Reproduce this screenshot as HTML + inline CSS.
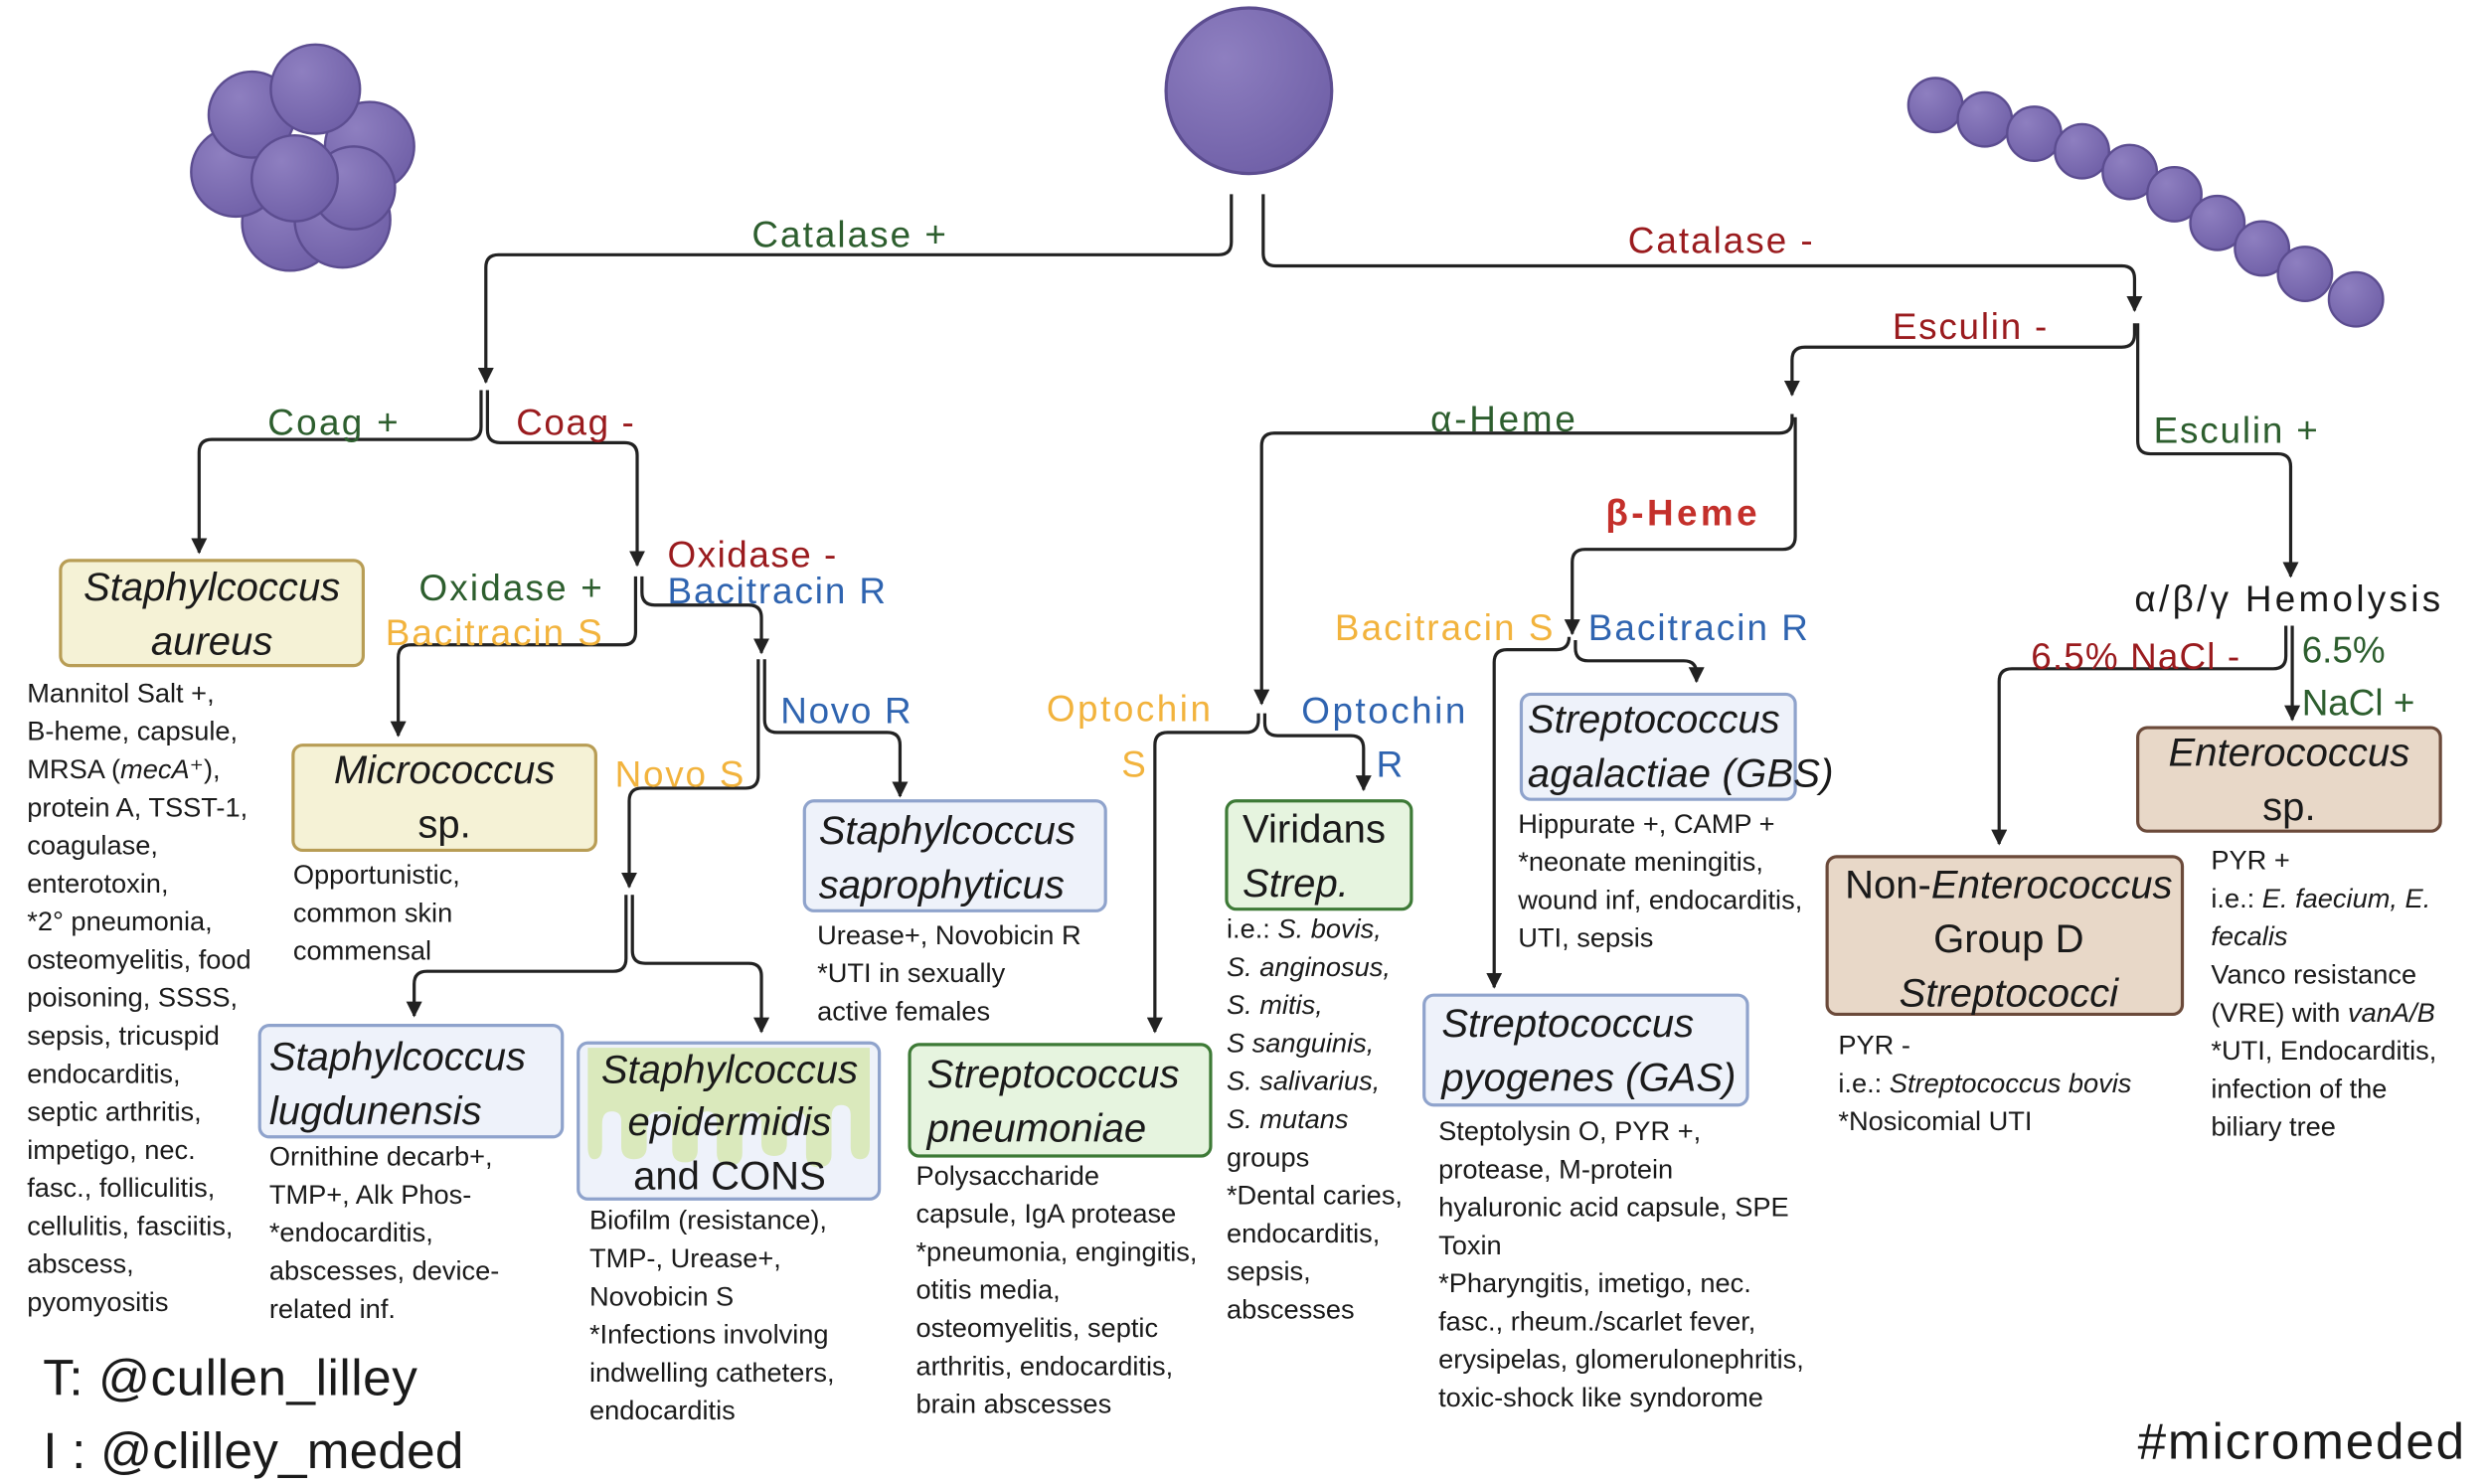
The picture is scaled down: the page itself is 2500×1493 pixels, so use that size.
<!DOCTYPE html>
<html><head><meta charset="utf-8"><style>
html,body{margin:0;padding:0;background:#fff;}
svg{display:block;}
text{font-family:"Liberation Sans",sans-serif;}
.lb{font-size:23px;}
.bt{font-size:17px;fill:#1a1a1a;}
.bx{font-size:25px;fill:#1a1a1a;}
.g{fill:#2d5e2e}.r{fill:#9a1b1e}.o{fill:#f2b33d}.b{fill:#2f64b0}
.ln{fill:none;stroke:#222;stroke-width:2;}
</style></head><body>
<svg width="2500" height="1493" viewBox="0 0 1560 932" preserveAspectRatio="none" xmlns="http://www.w3.org/2000/svg">
<defs>
<marker id="a" viewBox="0 0 10 10" refX="9" refY="5" markerWidth="5" markerHeight="5" orient="auto"><path d="M0,0 L10,5 L0,10 z" fill="#222"/></marker>
<radialGradient id="pg" cx="0.35" cy="0.3" r="0.8"><stop offset="0" stop-color="#8e7fc0"/><stop offset="1" stop-color="#6e5ea6"/></radialGradient>
</defs>
<rect width="1560" height="932" fill="#fff"/>
<g fill="url(#pg)" stroke="#5c4d90" stroke-width="1.5">
<circle cx="182" cy="140" r="30"/>
<circle cx="215" cy="138" r="30"/>
<circle cx="232" cy="92" r="28"/>
<circle cx="148" cy="108" r="28"/>
<circle cx="158" cy="72" r="27"/>
<circle cx="198" cy="56" r="28"/>
<circle cx="222" cy="118" r="26"/>
<circle cx="185" cy="112" r="27"/>
</g>
<circle cx="784" cy="57" r="52" fill="url(#pg)" stroke="#5c4d90" stroke-width="2"/>
<g fill="url(#pg)" stroke="#5c4d90" stroke-width="1.5">
<circle cx="1215" cy="66" r="17"/><circle cx="1246" cy="75" r="17"/><circle cx="1277" cy="84" r="17"/>
<circle cx="1307" cy="95" r="17"/><circle cx="1337" cy="108" r="17"/><circle cx="1365" cy="122" r="17"/>
<circle cx="1392" cy="140" r="17"/><circle cx="1420" cy="156" r="17"/><circle cx="1447" cy="172" r="17"/><circle cx="1479" cy="188" r="17"/>
</g>

<g class="ln">
<path d="M773,122 V152 Q773,160 765,160 H313 Q305,160 305,168 V240" marker-end="url(#a)"/>
<path d="M793,122 V159 Q793,167 801,167 H1332 Q1340,167 1340,175 V195" marker-end="url(#a)"/>
<path d="M302,245 V268 Q302,276 294,276 H133 Q125,276 125,284 V347" marker-end="url(#a)"/>
<path d="M306,245 V270 Q306,278 314,278 H392 Q400,278 400,286 V355" marker-end="url(#a)"/>
<path d="M399,362 V397 Q399,405 391,405 H258 Q250,405 250,413 V462" marker-end="url(#a)"/>
<path d="M403,362 V372 Q403,380 411,380 H470 Q478,380 478,388 V410" marker-end="url(#a)"/>
<path d="M480,414 V452 Q480,460 488,460 H557 Q565,460 565,468 V500" marker-end="url(#a)"/>
<path d="M476,414 V487 Q476,495 468,495 H403 Q395,495 395,503 V557" marker-end="url(#a)"/>
<path d="M393,562 V602 Q393,610 385,610 H268 Q260,610 260,618 V638" marker-end="url(#a)"/>
<path d="M397,562 V597 Q397,605 405,605 H470 Q478,605 478,613 V648" marker-end="url(#a)"/>
<path d="M1340,203 V210 Q1340,218 1332,218 H1133 Q1125,218 1125,226 V248" marker-end="url(#a)"/>
<path d="M1342,203 V277 Q1342,285 1350,285 H1430 Q1438,285 1438,293 V362" marker-end="url(#a)"/>
<path d="M1125,260 V264 Q1125,272 1117,272 H800 Q792,272 792,280 V442" marker-end="url(#a)"/>
<path d="M1127,262 V337 Q1127,345 1119,345 H995 Q987,345 987,353 V398" marker-end="url(#a)"/>
<path d="M985,402 V400 Q985,408 977,408 H946 Q938,408 938,416 V620" marker-end="url(#a)"/>
<path d="M989,402 V407 Q989,415 997,415 H1057 Q1065,415 1065,423 V428" marker-end="url(#a)"/>
<path d="M790,448 V452 Q790,460 782,460 H733 Q725,460 725,468 V648" marker-end="url(#a)"/>
<path d="M794,448 V454 Q794,462 802,462 H848 Q856,462 856,470 V496" marker-end="url(#a)"/>
<path d="M1435,393 V412 Q1435,420 1427,420 H1263 Q1255,420 1255,428 V530" marker-end="url(#a)"/>
<path d="M1439,393 V452" marker-end="url(#a)"/>
</g>

<text class="lb g" x="472" y="155" textLength="122">Catalase +</text>
<text class="lb r" x="1022" y="159" textLength="116">Catalase -</text>
<text class="lb g" x="168" y="273" textLength="82">Coag +</text>
<text class="lb r" x="324" y="273" textLength="74">Coag -</text>
<text class="lb g" x="263" y="377" textLength="115">Oxidase +</text>
<text class="lb o" x="242" y="405" textLength="136">Bacitracin S</text>
<text class="lb r" x="419" y="356" textLength="106">Oxidase -</text>
<text class="lb b" x="419" y="379" textLength="137">Bacitracin R</text>
<text class="lb b" x="490" y="454" textLength="82">Novo R</text>
<text class="lb o" x="386" y="494" textLength="81">Novo S</text>
<text class="lb g" x="898" y="271" textLength="91">α-Heme</text>
<text class="lb r" x="1188" y="213" textLength="97">Esculin -</text>
<text class="lb g" x="1352" y="278" textLength="103">Esculin +</text>
<text class="lb" x="1008" y="330" textLength="95" style="fill:#c4302b;font-weight:bold">β-Heme</text>
<text class="lb o" x="838" y="402" textLength="137">Bacitracin S</text>
<text class="lb b" x="997" y="402" textLength="138">Bacitracin R</text>
<text class="lb o" x="657" y="453" textLength="103">Optochin</text>
<text class="lb o" x="704" y="488">S</text>
<text class="lb b" x="817" y="454" textLength="103">Optochin</text>
<text class="lb b" x="864" y="488">R</text>
<text class="lb" x="1340" y="384" textLength="192" fill="#1a1a1a">α/β/γ Hemolysis</text>
<text class="lb r" x="1275" y="420" textLength="131">6.5% NaCl -</text>
<text class="lb g" x="1445" y="416">6.5%</text>
<text class="lb g" x="1445" y="449">NaCl +</text>

<rect x="38" y="352" width="190" height="66" rx="6" fill="#f5f2d6" stroke="#b89d55" stroke-width="2"/>
<text class="bx" text-anchor="middle" font-style="italic"><tspan x="133" y="377">Staphylcoccus</tspan><tspan x="133" y="411">aureus</tspan></text>
<rect x="184" y="468" width="190" height="66" rx="6" fill="#f5f2d6" stroke="#b89d55" stroke-width="2"/>
<text class="bx" text-anchor="middle"><tspan x="279" y="492" font-style="italic">Micrococcus</tspan><tspan x="279" y="526">sp.</tspan></text>
<rect x="505" y="503" width="189" height="69" rx="6" fill="#eef2fa" stroke="#8fa3cc" stroke-width="2"/>
<text class="bx" font-style="italic"><tspan x="514" y="530">Staphylcoccus</tspan><tspan x="514" y="564">saprophyticus</tspan></text>
<rect x="163" y="644" width="190" height="70" rx="6" fill="#eef2fa" stroke="#8fa3cc" stroke-width="2"/>
<text class="bx" font-style="italic"><tspan x="169" y="672">Staphylcoccus</tspan><tspan x="169" y="706">lugdunensis</tspan></text>
<rect x="363" y="655" width="189" height="98" rx="6" fill="#eef2fa" stroke="#8fa3cc" stroke-width="2"/>
<path d="M369,658 H546 V720 Q546,728 540,728 Q534,728 534,720 V700 Q534,694 528,694 Q522,694 522,702 V725 Q522,733 514,733 Q506,733 506,725 V705 Q506,698 500,698 Q494,698 494,706 V718 Q494,726 486,726 Q478,726 478,718 V705 Q478,698 472,698 Q466,698 466,708 V724 Q466,732 458,732 Q450,732 450,724 V706 Q450,698 444,698 Q438,698 438,706 V722 Q438,730 430,730 Q422,730 422,722 V706 Q422,698 414,698 Q406,698 406,706 V720 Q406,728 398,728 Q390,728 390,720 V704 Q390,698 384,698 Q378,698 378,706 V720 Q378,728 373,728 Q369,728 369,720 Z" fill="#d6e8b0" opacity="0.85"/>
<text class="bx" text-anchor="middle"><tspan x="458" y="680" font-style="italic">Staphylcoccus</tspan><tspan x="458" y="713" font-style="italic">epidermidis</tspan><tspan x="458" y="747">and CONS</tspan></text>
<rect x="571" y="656" width="189" height="70" rx="6" fill="#e6f4df" stroke="#3d7a36" stroke-width="2"/>
<text class="bx" font-style="italic"><tspan x="582" y="683">Streptococcus</tspan><tspan x="582" y="717">pneumoniae</tspan></text>
<rect x="770" y="503" width="116" height="68" rx="6" fill="#e6f4df" stroke="#3d7a36" stroke-width="2"/>
<text class="bx"><tspan x="780" y="529">Viridans</tspan><tspan x="780" y="563" font-style="italic">Strep.</tspan></text>
<rect x="955" y="436" width="172" height="66" rx="6" fill="#eef2fa" stroke="#8fa3cc" stroke-width="2"/>
<text class="bx" font-style="italic"><tspan x="959" y="460">Streptococcus</tspan><tspan x="959" y="494" textLength="192">agalactiae (GBS)</tspan></text>
<rect x="894" y="625" width="203" height="69" rx="6" fill="#eef2fa" stroke="#8fa3cc" stroke-width="2"/>
<text class="bx" font-style="italic"><tspan x="905" y="651">Streptococcus</tspan><tspan x="905" y="685">pyogenes (GAS)</tspan></text>
<rect x="1342" y="457" width="190" height="65" rx="6" fill="#e8d8c8" stroke="#6b4a3a" stroke-width="2"/>
<text class="bx" text-anchor="middle"><tspan x="1437" y="481" font-style="italic">Enterococcus</tspan><tspan x="1437" y="515">sp.</tspan></text>
<rect x="1147" y="538" width="223" height="99" rx="6" fill="#e8d8c8" stroke="#6b4a3a" stroke-width="2"/>
<text class="bx" text-anchor="middle"><tspan x="1261" y="564">Non-<tspan font-style="italic">Enterococcus</tspan></tspan><tspan x="1261" y="598">Group D</tspan><tspan x="1261" y="632" font-style="italic">Streptococci</tspan></text>

<text class="bt"><tspan x="17" y="441">Mannitol Salt +,</tspan><tspan x="17" dy="23.9">B-heme, capsule,</tspan><tspan x="17" dy="23.9">MRSA (<tspan font-style="italic">mecA</tspan>⁺),</tspan><tspan x="17" dy="23.9">protein A, TSST-1,</tspan><tspan x="17" dy="23.9">coagulase,</tspan><tspan x="17" dy="23.9">enterotoxin,</tspan><tspan x="17" dy="23.9">*2° pneumonia,</tspan><tspan x="17" dy="23.9">osteomyelitis, food</tspan><tspan x="17" dy="23.9">poisoning, SSSS,</tspan><tspan x="17" dy="23.9">sepsis, tricuspid</tspan><tspan x="17" dy="23.9">endocarditis,</tspan><tspan x="17" dy="23.9">septic arthritis,</tspan><tspan x="17" dy="23.9">impetigo, nec.</tspan><tspan x="17" dy="23.9">fasc., folliculitis,</tspan><tspan x="17" dy="23.9">cellulitis, fasciitis,</tspan><tspan x="17" dy="23.9">abscess,</tspan><tspan x="17" dy="23.9">pyomyositis</tspan></text>
<text class="bt"><tspan x="184" y="555">Opportunistic,</tspan><tspan x="184" dy="23.9">common skin</tspan><tspan x="184" dy="23.9">commensal</tspan></text>
<text class="bt"><tspan x="513" y="593">Urease+, Novobicin R</tspan><tspan x="513" dy="23.9">*UTI in sexually</tspan><tspan x="513" dy="23.9">active females</tspan></text>
<text class="bt"><tspan x="169" y="732">Ornithine decarb+,</tspan><tspan x="169" dy="23.9">TMP+, Alk Phos-</tspan><tspan x="169" dy="23.9">*endocarditis,</tspan><tspan x="169" dy="23.9">abscesses, device-</tspan><tspan x="169" dy="23.9">related inf.</tspan></text>
<text class="bt"><tspan x="370" y="772">Biofilm (resistance),</tspan><tspan x="370" dy="23.9">TMP-, Urease+,</tspan><tspan x="370" dy="23.9">Novobicin S</tspan><tspan x="370" dy="23.9">*Infections involving</tspan><tspan x="370" dy="23.9">indwelling catheters,</tspan><tspan x="370" dy="23.9">endocarditis</tspan></text>
<text class="bt"><tspan x="575" y="744">Polysaccharide</tspan><tspan x="575" dy="23.9">capsule, IgA protease</tspan><tspan x="575" dy="23.9">*pneumonia, engingitis,</tspan><tspan x="575" dy="23.9">otitis media,</tspan><tspan x="575" dy="23.9">osteomyelitis, septic</tspan><tspan x="575" dy="23.9">arthritis, endocarditis,</tspan><tspan x="575" dy="23.9">brain abscesses</tspan></text>
<text class="bt"><tspan x="770" y="589">i.e.: <tspan font-style="italic">S. bovis,</tspan></tspan><tspan x="770" dy="23.9" font-style="italic">S. anginosus,</tspan><tspan x="770" dy="23.9" font-style="italic">S. mitis,</tspan><tspan x="770" dy="23.9" font-style="italic">S sanguinis,</tspan><tspan x="770" dy="23.9" font-style="italic">S. salivarius,</tspan><tspan x="770" dy="23.9" font-style="italic">S. mutans</tspan><tspan x="770" dy="23.9">groups</tspan><tspan x="770" dy="23.9">*Dental caries,</tspan><tspan x="770" dy="23.9">endocarditis,</tspan><tspan x="770" dy="23.9">sepsis,</tspan><tspan x="770" dy="23.9">abscesses</tspan></text>
<text class="bt"><tspan x="953" y="523">Hippurate +, CAMP +</tspan><tspan x="953" dy="23.9">*neonate meningitis,</tspan><tspan x="953" dy="23.9">wound inf, endocarditis,</tspan><tspan x="953" dy="23.9">UTI, sepsis</tspan></text>
<text class="bt"><tspan x="903" y="716">Steptolysin O, PYR +,</tspan><tspan x="903" dy="23.9">protease, M-protein</tspan><tspan x="903" dy="23.9">hyaluronic acid capsule, SPE</tspan><tspan x="903" dy="23.9">Toxin</tspan><tspan x="903" dy="23.9">*Pharyngitis, imetigo, nec.</tspan><tspan x="903" dy="23.9">fasc., rheum./scarlet fever,</tspan><tspan x="903" dy="23.9">erysipelas, glomerulonephritis,</tspan><tspan x="903" dy="23.9">toxic-shock like syndorome</tspan></text>
<text class="bt"><tspan x="1154" y="662">PYR -</tspan><tspan x="1154" dy="23.9">i.e.: <tspan font-style="italic">Streptococcus bovis</tspan></tspan><tspan x="1154" dy="23.9">*Nosicomial UTI</tspan></text>
<text class="bt"><tspan x="1388" y="546">PYR +</tspan><tspan x="1388" dy="23.9">i.e.: <tspan font-style="italic">E. faecium, E.</tspan></tspan><tspan x="1388" dy="23.9" font-style="italic">fecalis</tspan><tspan x="1388" dy="23.9">Vanco resistance</tspan><tspan x="1388" dy="23.9">(VRE) with <tspan font-style="italic">vanA/B</tspan></tspan><tspan x="1388" dy="23.9">*UTI, Endocarditis,</tspan><tspan x="1388" dy="23.9">infection of the</tspan><tspan x="1388" dy="23.9">biliary tree</tspan></text>

<text x="27" y="876" font-size="32" fill="#1a1a1a" textLength="235">T: @cullen_lilley</text>
<text x="27" y="922" font-size="32" fill="#1a1a1a" textLength="264">I : @clilley_meded</text>
<text x="1342" y="916" font-size="32" fill="#1a1a1a" textLength="205">#micromeded</text>
</svg>
</body></html>
